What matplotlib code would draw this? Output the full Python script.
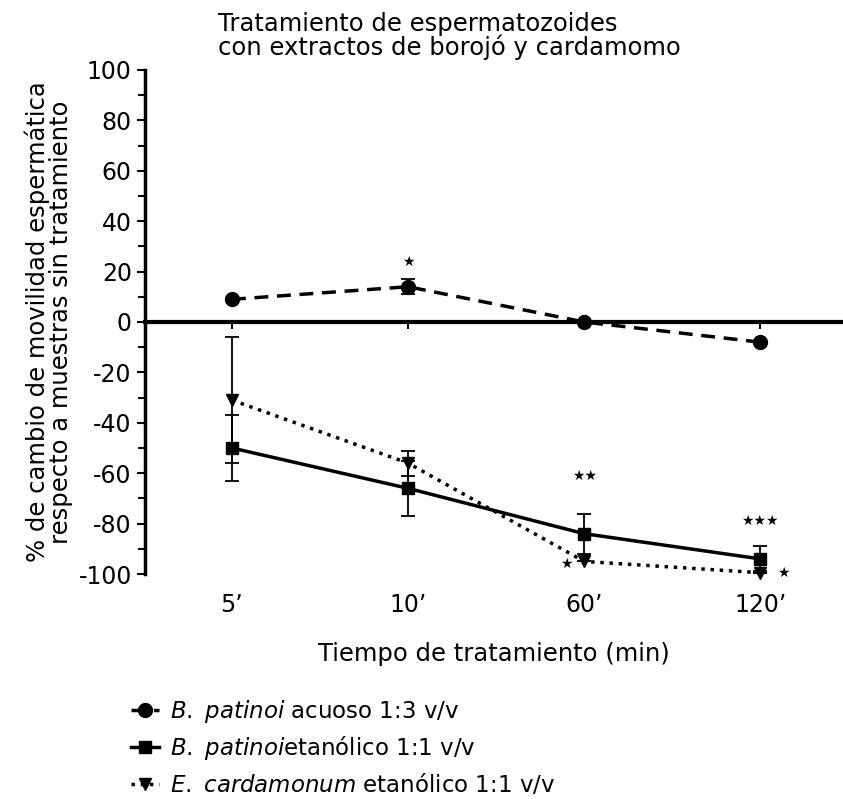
import matplotlib.pyplot as plt
from matplotlib.lines import Line2D
from matplotlib.ticker import MultipleLocator

plt.rcParams['font.family'] = 'DejaVu Sans'
plt.rcParams['mathtext.fontset'] = 'dejavusans'
plt.rcParams['axes.unicode_minus'] = False

# data
times = ["5\u2019", "10\u2019", "60\u2019", "120\u2019"]
acuoso = [9, 14, 0, -8]
acuoso_err = [0, 3, 0, 0]
etanolico = [-50, -66, -84, -94]
etanolico_err = [13, 11, 8, 5]
cardamomo = [-31, -56, -95, -99.5]
cardamomo_err = [25, 5, 0, 0]

# significance marks: (x index, y, text)
stars_x = [1, 2, 3, 1.9, 3.13]
stars_y = [24, -61, -79, -96, -99.5]
stars_txt = ["\u2605", "\u2605\u2605", "\u2605\u2605\u2605", "\u2605", "\u2605"]

x = list(range(len(times)))

fig = plt.figure(figsize=(8.43, 7.99), dpi=100)
ax = fig.add_axes([0.172, 0.2816, 0.828, 0.6308])

styles = [dict(ls='--', marker='o', ms=10, dashes=(4, 2.5)),
          dict(ls='-', marker='s', ms=8),
          dict(ls=':', marker='v', ms=9)]
series = [(acuoso, acuoso_err), (etanolico, etanolico_err), (cardamomo, cardamomo_err)]

handles = []
for (vals, err), st in zip(series, styles):
    eb = ax.errorbar(x, vals, yerr=err, color='black', lw=2.5, capsize=5,
                     elinewidth=1.3, capthick=1.3, clip_on=False, **st)
    for a in eb.lines[1] + eb.lines[2]:
        a.set_clip_on(False)
    handles.append(Line2D([], [], color='black', lw=2.5, **st))

for sx, sy, st in zip(stars_x, stars_y, stars_txt):
    ax.text(sx, sy, st, ha='center', va='center', fontsize=10)

ax.set_xlim(-0.494, 3.47)
ax.set_ylim(-100, 100)
ax.yaxis.set_major_locator(MultipleLocator(20))
ax.yaxis.set_minor_locator(MultipleLocator(10))
ax.tick_params(axis='y', which='major', length=6, width=1.5, labelsize=17)
ax.tick_params(axis='y', which='minor', length=5, width=1.5)

for s in ('top', 'right'):
    ax.spines[s].set_visible(False)
ax.spines['left'].set_linewidth(2.5)
ax.spines['bottom'].set_position(('data', 0))
ax.spines['bottom'].set_linewidth(3)
ax.set_xticks(x)
ax.set_xticklabels([])
ax.tick_params(axis='x', length=5, width=1.5, direction='out')

sec = ax.secondary_xaxis(0.0)
sec.set_xticks(x)
sec.set_xticklabels(times, fontsize=17)
sec.tick_params(length=0, pad=14)
sec.spines['bottom'].set_visible(False)

sec.set_xlabel("Tiempo de tratamiento (min)", fontsize=17.5, labelpad=18)
ax.set_ylabel("% de cambio de movilidad espermática\nrespecto a muestras sin tratamiento",
              fontsize=17.5, labelpad=4, linespacing=0.95)

fig.text(0.259, 0.985, "Tratamiento de espermatozoides\ncon extractos de borojó y cardamomo",
         ha='left', va='top', fontsize=17.5, linespacing=0.95)

labels = [r"$\mathit{B.}$ $\mathit{patinoi}$ acuoso 1:3 v/v",
          r"$\mathit{B.}$ $\mathit{patinoi}$etanólico 1:1 v/v",
          r"$\mathit{E.}$ $\mathit{cardamonum}$ etanólico 1:1 v/v"]
fig.legend(handles, labels, loc='upper left', bbox_to_anchor=(0.145, 0.1375),
           frameon=False, fontsize=16.5, handlelength=1.2, handletextpad=0.5,
           labelspacing=0.4, borderaxespad=0)

fig.savefig("out.png", dpi=100)
